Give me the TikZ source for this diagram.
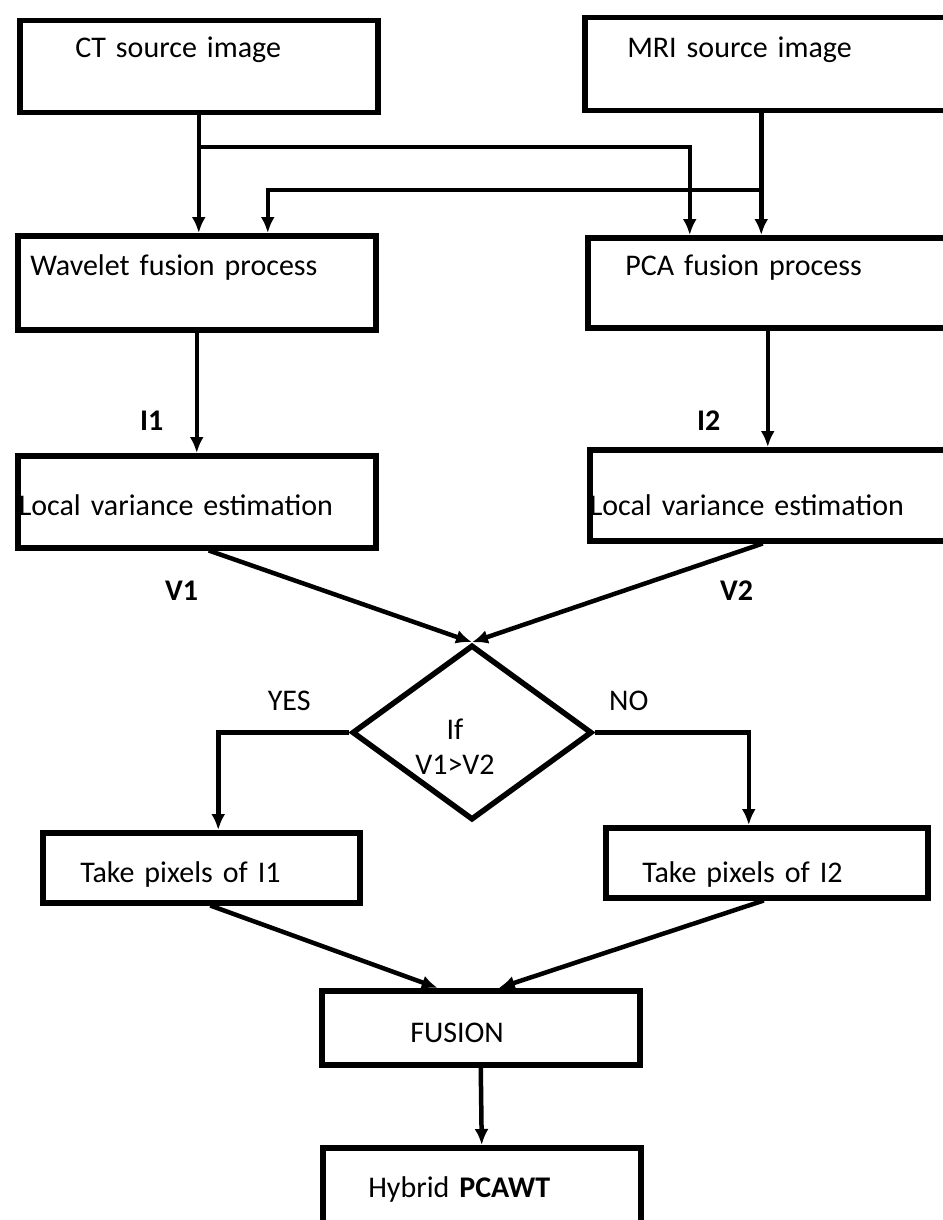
\documentclass[tikz,border=0pt]{standalone}
\usepackage{fontspec}
\setmainfont{Carlito}
\usetikzlibrary{arrows.meta,positioning,shapes.geometric}

\begin{document}
\begin{tikzpicture}[
		x=1pt, y=-1pt,
		>={Latex[length=16pt,width=14pt]},
		font=\fontsize{30}{35}\selectfont,
		box/.style={
			rectangle,
			draw=black,
			line width=5.5pt,
			anchor=north west,
			align=left,
			inner ysep=0pt
		},
		decision/.style={
			diamond,
			draw=black,
			line width=5.5pt,
			inner sep=0pt,
			minimum width=240pt,
			minimum height=175pt
		},
		flow/.style={
			draw,
			line width=4.5pt
		},
		tag/.style={
			font=\fontsize{30}{35}\selectfont\bfseries
		}
		]
		\useasboundingbox (0,0) rectangle (942,1220);
		
		% We start by placing the blocks
		
		\node [box, text width=247pt, inner xsep=55.5pt, text height=36.5pt, text depth=55.5pt] (ct) at (17,18) {CT source image};
		\node [box, text width=278pt, inner xsep=42.5pt, text height=39.5pt, text depth=53.5pt] (mri) at (582,15) {MRI source image};
		
		\node [box, text width=333pt, inner xsep=12.5pt, text height=39.5pt, text depth=54.5pt] (wav) at (15,233) {Wavelet fusion process};
		\node [box, text width=285pt, inner xsep=37.5pt, text height=37.5pt, text depth=52.5pt] (pca) at (585,235) {PCA fusion process};
		
		\node [box, text width=356pt, inner xsep=1pt, text height=59.5pt, text depth=32.5pt] (lv1) at (15,453) {Local variance estimation};
		\node [box, text width=360pt, inner xsep=0pt, text height=65.5pt, text depth=25.5pt] (lv2) at (587,447) {Local variance estimation};
		
		\node [decision] (dec) at (472,732.5) {};
		\node [align=center] (cond) at (455,747) {If\\V1>V2};
		
		\node [box, text width=242pt, inner xsep=37.5pt, text height=49.5pt, text depth=20.5pt] (tp1) at (40,830) {Take pixels of I1};
		\node [box, text width=249pt, inner xsep=36.5pt, text height=54.5pt, text depth=15.5pt] (tp2) at (603,825) {Take pixels of I2};
		
		\node [box, text width=141pt, inner xsep=88.5pt, text height=51.5pt, text depth=22.5pt] (fus) at (319,988) {FUSION};
		\node [box, text width=227pt, inner xsep=45.5pt, text height=49.5pt, text depth=30.5pt] (hyb) at (320,1145) {Hybrid \textbf{PCAWT}};
		
		% connectors
		\coordinate (mridrop) at ([xshift=-5pt]mri.south);
		
		\draw [flow,->] (ct.south) -- (ct.south |- wav.north);
		\draw [flow,->] (ct.south |- 0,147) -| ([xshift=-78pt]pca.north);
		\draw [flow,->] (mridrop) -- (mridrop |- pca.north);
		\draw [flow,->] (mridrop |- 0,190) -| ([xshift=71pt]wav.north);
		
		\draw [flow,->] (wav.south) -- node [tag, pos=0.73, xshift=-45pt] (i1) {I1} (lv1.north);
		\draw [flow,->] (pca.south) -- node [tag, pos=0.77, xshift=-59pt] (i2) {I2} (pca.south |- lv2.north);
		
		\draw [flow,->] ([xshift=12pt]lv1.south) -- node [tag, pos=0.44, xshift=-143pt] (v1) {V1} (dec.north);
		\draw [flow,->] ([xshift=-7pt]lv2.south) -- node [tag, pos=0.48, xshift=113.5pt] (v2) {V2} (dec.north);
		
		\draw [flow,->] (dec.west) -| node [pos=0.25, xshift=5.5pt, yshift=32pt] (yes) {YES} ([xshift=17pt]tp1.north);
		\draw [flow,->] (dec.east) -| node [pos=0.25, xshift=-43pt, yshift=32pt] (no) {NO} ([xshift=-18pt]tp2.north);
		
		\draw [flow,->] ([xshift=9pt]tp1.south) -- ([xshift=-43pt]fus.north);
		\draw [flow,->] ([xshift=-3pt]tp2.south) -- ([xshift=18pt]fus.north);
		\draw [flow,->] (fus.south) -- (hyb.north);
		
\end{tikzpicture}
\end{document}
